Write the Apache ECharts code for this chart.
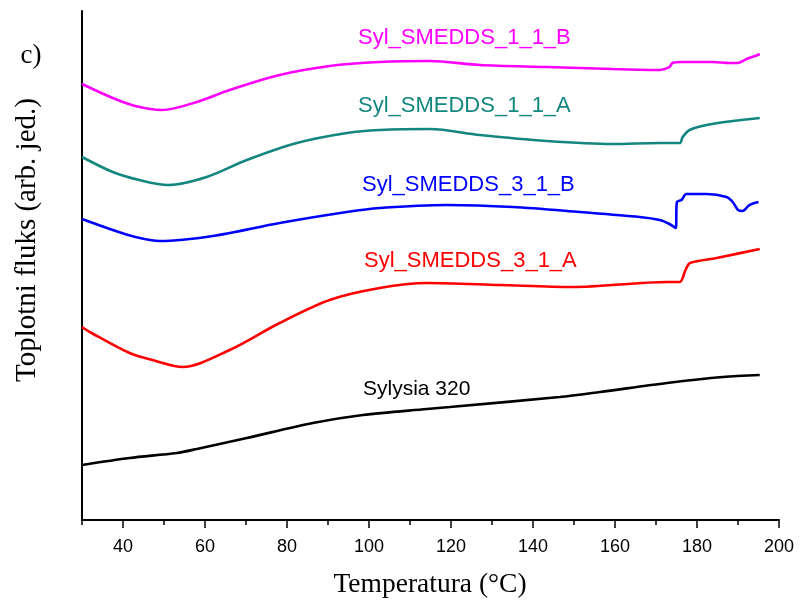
<!DOCTYPE html>
<html><head><meta charset="utf-8">
<script src="https://cdn.jsdelivr.net/npm/echarts@6/dist/echarts.min.js"></script>
<style>html,body{margin:0;padding:0;background:#fff}#c{width:800px;height:602px}</style>
</head><body><div id="c"></div>
<script>
// Temperature (°C) vs heat flux (arbitrary units, offset curves)
const s11B = [[30,436],[37.5,422],[43,414],[49.5,410],[58,418],[66,430],[78.2,445],[90.4,454],[102.6,458],[114.8,459],[127,455],[143.3,453],[159.4,451],[170.9,450],[172.1,451],[173.3,453],[174,457],[176.5,458],[183.8,458],[187.9,457],[189.9,457],[192.1,461],[194.8,465],[195.3,466]];
const s11A = [[30,363],[37.5,348],[44,340],[51,335],[60.4,343],[70.2,360],[82.4,377],[94.6,387],[102.6,390],[114.8,391],[127,385],[143.3,379],[159.4,376],[170.9,377],[175.8,377],[176.5,383],[178.2,390],[182.3,395],[188.7,399],[195.3,402]];
const s31B = [[30,301],[37.5,290],[43,283],[49,279],[61.9,284],[78.2,297],[94.6,308],[102.6,312],[119,315],[135.1,313],[151.4,308],[166,303],[170.9,300],[173.3,296],[174.8,292],[175.1,318],[176.2,320],[177.4,326],[182.3,326],[187.2,323],[188.7,318],[190,310],[191.1,309],[192.8,315],[195,318]];
const s31A = [[30,193],[31.9,188],[41.6,167],[48,159],[54.5,153],[66,170],[78.2,197],[90.4,220],[102.6,232],[114.1,237],[131.9,235],[149.7,233],[172.7,238],[175.8,238],[177.2,250],[178.3,257],[184.8,262],[195.3,271]];
const sSyl = [[30,55],[41.6,62],[53.1,67],[58,71],[70.2,82],[86.3,97],[98.5,105],[114.1,111],[119.7,113],[146.5,123],[156.3,128],[172.7,137],[186.3,143],[195.3,145]];
const seriesNames = ['Syl_SMEDDS_1_1_B','Syl_SMEDDS_1_1_A','Syl_SMEDDS_3_1_B','Syl_SMEDDS_3_1_A','Sylysia 320'];
const seriesData = [s11B, s11A, s31B, s31A, sSyl];
const colors = ['#ff00ff','#13877f','#0000ff','#ff0000','#000000'];
const xTitle = 'Temperatura (°C)';
const yTitle = 'Toplotni fluks (arb. jed.)';
const panelLabel = 'c)';

const labelPos = [[358,38],[358,106],[362,185],[364,261],[363,389]];
const labelSize = [22,22,22,22,21];

const chart = echarts.init(document.getElementById('c'), null, {renderer:'canvas'});
const sans = 'Liberation Sans, Arial, sans-serif';
const serif = 'Liberation Serif, Times New Roman, serif';
chart.setOption({
  animation: false,
  backgroundColor: '#fff',
  grid: {left: 82, right: 21, top: 11, bottom: 82},
  xAxis: [{
    type: 'value', min: 30, max: 200, splitNumber: 8, position: 'bottom',
    axisLine: {onZero: false, lineStyle: {color: '#000', width: 2}},
    axisTick: {length: 8, lineStyle: {color: '#000', width: 1.5}},
    axisLabel: {showMinLabel: false, color: '#000', fontSize: 18, fontFamily: sans, margin: 18},
    splitLine: {show: false}
  }, {
    type: 'value', min: 30, max: 200, interval: 10, position: 'bottom',
    axisLine: {show: false, onZero: false},
    axisTick: {length: 5, lineStyle: {color: '#000', width: 1.5}},
    axisLabel: {show: false},
    splitLine: {show: false}
  }],
  yAxis: {
    type: 'value', min: 0, max: 509,
    axisLine: {show: true, onZero: false, lineStyle: {color: '#000', width: 2}},
    axisTick: {show: false}, axisLabel: {show: false}, splitLine: {show: false}
  },
  series: seriesData.map((d, i) => ({
    name: seriesNames[i], type: 'line', data: d, xAxisIndex: 0,
    showSymbol: false, smooth: 0.3,
    lineStyle: {color: colors[i], width: 2.6}, itemStyle: {color: colors[i]}
  })),
  graphic: [
    ...seriesNames.map((n, i) => ({
      type: 'text', x: labelPos[i][0], y: labelPos[i][1],
      style: {text: n, fill: colors[i], font: labelSize[i] + 'px ' + sans, textAlign: 'left', textVerticalAlign: 'middle'}
    })),
    {type: 'text', x: 430, y: 585, style: {text: xTitle, fill: '#000', font: '27.5px ' + serif, textAlign: 'center', textVerticalAlign: 'middle'}},
    {type: 'text', x: 27, y: 240, rotation: Math.PI/2, style: {text: yTitle, fill: '#000', font: '29px ' + serif, textAlign: 'center', textVerticalAlign: 'middle'}},
    {type: 'text', x: 31, y: 56, style: {text: panelLabel, fill: '#000', font: '27px ' + serif, textAlign: 'center', textVerticalAlign: 'middle'}}
  ]
});
</script></body></html>
